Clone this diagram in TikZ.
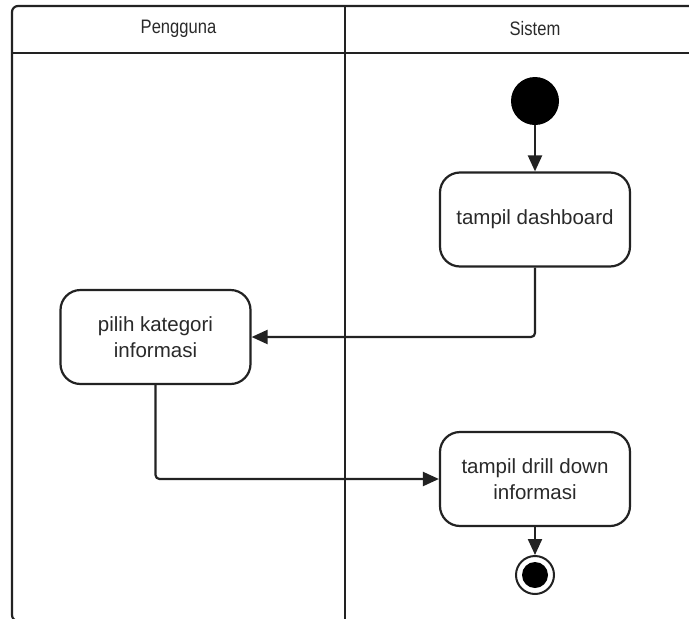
\documentclass[tikz,border=0pt]{standalone}
\usepackage{fontspec}
\usepackage{graphicx}
\setmainfont{Liberation Sans}
\usetikzlibrary{arrows.meta}
\definecolor{ink}{HTML}{222222}
\definecolor{txt}{HTML}{2A2A2A}
\newcommand{\lanetitle}[1]{\scalebox{0.85}[1]{#1}}
\tikzset{
  lane/.style={draw=ink, line width=2.2pt},
  lanehead/.style={font=\fontsize{19.5}{23}\selectfont, text=txt},
  action/.style={draw=ink, line width=2.2pt, rounded corners=20pt, fill=white,
    minimum width=190pt, minimum height=94pt, align=center, text=txt,
    font=\fontsize{20.5}{26}\selectfont, inner sep=0pt},
  flow/.style={draw=ink, line width=2.2pt, rounded corners=4pt,
    -{Triangle[length=16pt,width=14pt]}},
  startdot/.style={circle, fill=black, minimum size=48pt, inner sep=0pt},
  enddot/.style={circle, draw=ink, line width=2pt, fill=white, minimum size=38pt, inner sep=0pt},
}
\begin{document}
\begin{tikzpicture}[x=1pt,y=-1pt]
  \useasboundingbox (0,0) rectangle (689,619);
  \begin{scope}
    \clip (0,0) rectangle (689,619);
    % swimlane frame (right and bottom edges run off the page)
    \draw[lane, rounded corners=6pt] (12,6) rectangle (740,621);
    \draw[lane] (12,53) -- (740,53);
    \draw[lane] (345,6) -- (345,621);
  \end{scope}
  \node[lanehead] (hpeng) at (178.5,29) {\lanetitle{Pengguna}};
  \node[lanehead] (hsis) at (535,29) {\lanetitle{Sistem}};

  % activity nodes
  \node[startdot] (start) at (535,101) {};
  \node[action] (dash) at (535,219.5) {tampil dashboard};
  \node[action] (pilih) at (155.5,337) {pilih kategori\\informasi};
  \node[action] (drill) at (535,479) {tampil drill down\\informasi};
  \node[enddot] (end) at (535,575) {};
  \fill[black] (end.center) circle (13pt);

  % control flow
  \draw[flow] (start) -- (dash);
  \draw[flow] (dash.south) |- (pilih.east);
  \draw[flow] (pilih.south) |- (drill.west);
  \draw[flow] (drill) -- (end);
\end{tikzpicture}
\end{document}
